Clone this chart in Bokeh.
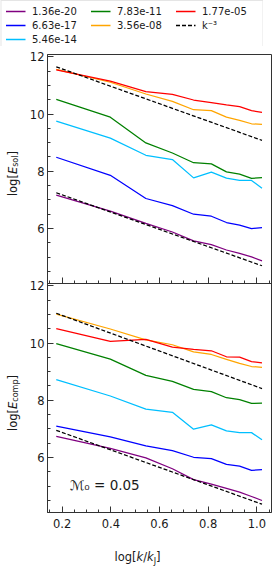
import numpy as np
from bokeh.plotting import figure
from bokeh.layouts import column, row
from bokeh.models import (LinearAxis, Legend, LegendItem, Label, Range1d,
                          FixedTicker, Div, PrintfTickFormatter)
from bokeh.embed import file_html
from bokeh.resources import INLINE

# ---------------- data ----------------
# x positions: log10(k / k_J)
log_k = [0.176, 0.398, 0.544, 0.653, 0.740, 0.813, 0.875, 0.929, 0.978, 1.021]

series_labels = ["1.36e-20", "6.63e-17", "5.46e-14", "7.83e-11", "3.56e-08", "1.77e-05"]
series_colors = ["purple", "blue", "deepskyblue", "green", "orange", "red"]

# top panel: log[E_sol]
sol_1p36e20 = [7.17, 6.61, 6.18, 5.88, 5.57, 5.44, 5.25, 5.13, 5.01, 4.87]
sol_6p63e17 = [8.49, 7.86, 7.05, 6.80, 6.50, 6.43, 6.21, 6.12, 6.00, 6.03]
sol_5p46e14 = [9.75, 9.16, 8.56, 8.41, 7.77, 7.97, 7.76, 7.68, 7.68, 7.41]
sol_7p83e11 = [10.51, 9.89, 8.99, 8.64, 8.30, 8.26, 7.98, 7.90, 7.75, 7.78]
sol_3p56e08 = [11.56, 11.11, 10.70, 10.44, 10.15, 10.12, 9.89, 9.78, 9.66, 9.64]
sol_1p77e05 = [11.54, 11.15, 10.78, 10.69, 10.49, 10.40, 10.32, 10.26, 10.12, 10.06]

# bottom panel: log[E_comp]
comp_1p36e20 = [6.74, 6.32, 5.99, 5.61, 5.23, 5.07, 4.92, 4.79, 4.64, 4.50]
comp_6p63e17 = [7.10, 6.72, 6.41, 6.24, 6.01, 5.96, 5.76, 5.70, 5.55, 5.58]
comp_5p46e14 = [8.72, 8.15, 7.69, 7.58, 6.99, 7.14, 6.93, 6.87, 6.87, 6.62]
comp_7p83e11 = [9.98, 9.44, 8.87, 8.66, 8.38, 8.30, 8.09, 8.02, 7.89, 7.90]
comp_3p56e08 = [11.01, 10.49, 10.11, 9.94, 9.69, 9.60, 9.43, 9.29, 9.18, 9.15]
comp_1p77e05 = [10.50, 10.06, 10.13, 9.86, 9.78, 9.73, 9.52, 9.51, 9.35, 9.31]

# k^-3 reference lines (end points)
ref_x = [0.176, 1.021]
sol_ref_hi = [11.65, 9.08]
sol_ref_lo = [7.25, 4.70]
comp_ref_hi = [11.04, 8.41]
comp_ref_lo = [6.95, 4.37]
slope_label = "k⁻³"

mach_label = "ℳ₀ = 0.05"

y_ticks = [6, 8, 10, 12]
y_minor = [4.5, 5, 5.5, 6.5, 7, 7.5, 8.5, 9, 9.5, 10.5, 11, 11.5]
x_ticks = [0.2, 0.4, 0.6, 0.8, 1.0]
x_minor = [0.15, 0.25, 0.3, 0.35, 0.45, 0.5, 0.55, 0.65, 0.7, 0.75,
           0.85, 0.9, 0.95, 1.05]

sol_series = [sol_1p36e20, sol_6p63e17, sol_5p46e14, sol_7p83e11, sol_3p56e08, sol_1p77e05]
comp_series = [comp_1p36e20, comp_6p63e17, comp_5p46e14, comp_7p83e11, comp_3p56e08, comp_1p77e05]

# ---------------- styling ----------------
FONT = "DejaVu Sans"
AX = "#333333"
TXT = "#1a1a1a"
LW = 1.25
DASH = "4 2"

Y_LO, Y_HI = 4.08, 12.08
SPAN = 8  # each panel shows Y_LO..Y_HI
FRAME_H = 229
TOP_B, BOT_B = 8, 22
LEG_H = 46

p = figure(width=247, height=TOP_B + 2 * FRAME_H + BOT_B,
           x_range=Range1d(0.14, 1.06),
           y_range=Range1d(Y_LO - SPAN, Y_HI),
           output_backend="svg", toolbar_location=None,
           min_border_left=17, min_border_right=2,
           min_border_top=TOP_B, min_border_bottom=BOT_B)
# the bottom panel uses its own scale on the lower half of the frame
p.extra_y_ranges = {"bottom": Range1d(Y_LO, Y_HI + SPAN)}
p.grid.visible = False
p.outline_line_color = AX
p.outline_line_width = 1


def style_axis(ax):
    ax.major_tick_in = 6
    ax.major_tick_out = 0
    ax.minor_tick_in = 3
    ax.minor_tick_out = 0
    ax.axis_line_color = AX
    ax.major_tick_line_color = AX
    ax.minor_tick_line_color = AX
    ax.major_label_text_font = FONT
    ax.major_label_text_color = TXT
    ax.major_label_text_font_size = "11.5px"


# one left axis carries the ticks of both panels (bottom panel ticks shifted
# onto the main scale and relabelled with their own values)
yl = p.yaxis[0]
bot_ticks = [t - SPAN for t in y_ticks]
yl.ticker = FixedTicker(ticks=bot_ticks + y_ticks,
                        minor_ticks=[t - SPAN for t in y_minor] + y_minor)
yl.major_label_overrides = {bt: str(t) for bt, t in zip(bot_ticks, y_ticks)}
style_axis(yl)
yl.major_label_standoff = 3

# bottom x axis
xb = p.xaxis[0]
xb.ticker = FixedTicker(ticks=x_ticks, minor_ticks=x_minor)
xb.formatter = PrintfTickFormatter(format="%.1f")
style_axis(xb)
xb.major_label_standoff = 6

# x axis at the boundary between the panels (ticks only)
xm = LinearAxis(fixed_location=Y_LO,
                ticker=FixedTicker(ticks=x_ticks, minor_ticks=x_minor))
style_axis(xm)
xm.major_label_text_color = None
xm.major_label_standoff = 0
p.add_layout(xm, "below")

sol_renderers = []
for vals, col in zip(sol_series, series_colors):
    sol_renderers.append(p.line(log_k, vals, color=col, line_width=LW))
p.line(ref_x, sol_ref_hi, color="black", line_dash=DASH, line_width=LW)
p.line(ref_x, sol_ref_lo, color="black", line_dash=DASH, line_width=LW)

for vals, col in zip(comp_series, series_colors):
    p.line(log_k, vals, color=col, line_width=LW, y_range_name="bottom")
p.line(ref_x, comp_ref_hi, color="black", line_dash=DASH, line_width=LW,
       y_range_name="bottom")
p.line(ref_x, comp_ref_lo, color="black", line_dash=DASH, line_width=LW,
       y_range_name="bottom")

p.add_layout(Label(x=0.232, y=5.05, y_range_name="bottom", text=mach_label,
                   text_font=FONT, text_font_size="13.5px", text_color=TXT,
                   text_baseline="middle", text_align="left"))

# ---------------- legend figure ----------------
# legend glyphs come from copies of the series lines, kept outside the view
lf = figure(width=263, height=LEG_H, x_range=Range1d(-3, -2), y_range=Range1d(-3, -2),
            output_backend="svg", toolbar_location=None, min_border=0,
            x_axis_type=None, y_axis_type=None, outline_line_color=None)
lf.grid.visible = False
rends = {}
for lab, col, vals in zip(series_labels, series_colors, sol_series):
    rends[lab] = lf.line(log_k, vals, color=col, line_width=1.6)
rends[slope_label] = lf.line(ref_x, sol_ref_hi, color="black", line_dash=DASH,
                             line_width=1.6)
order = ["1.36e-20", "7.83e-11", "1.77e-05",
         "6.63e-17", "3.56e-08", slope_label,
         "5.46e-14"]
legend = Legend(items=[LegendItem(label=l, renderers=[rends[l]]) for l in order],
                orientation="horizontal", ncols=3, location="top_center",
                margin=0, padding=4, spacing=2,
                glyph_width=20, glyph_height=12, label_height=12,
                label_width=56, label_standoff=7,
                label_text_font=FONT, label_text_font_size="10px",
                label_text_color=TXT,
                border_line_color="#cccccc", border_line_width=1,
                background_fill_color="white", background_fill_alpha=1)
lf.add_layout(legend, "center")

# ---------------- axis-label divs ----------------
def ylab(sub):
    return ('<div style="height:%dpx;width:16px;display:flex;align-items:center;'
            'justify-content:center;">'
            '<span style="writing-mode:vertical-rl;transform:rotate(180deg);'
            'white-space:nowrap;font-family:\'DejaVu Sans\';font-size:11.5px;'
            'color:%s;">log[<i>E</i><sub style="font-size:8px;">%s</sub>]</span></div>'
            % (FRAME_H, TXT, sub))


ydiv = Div(text='<div style="height:%dpx"></div>' % TOP_B + ylab("sol") + ylab("comp"),
           width=16, height=TOP_B + 2 * FRAME_H + BOT_B)

xdiv = Div(text=('<div style="width:231px;padding-left:34px;text-align:center;'
                 'font-family:\'DejaVu Sans\';font-size:11.5px;color:%s;'
                 'line-height:14px;">log[<i>k</i>/<i>k</i>'
                 '<sub style="font-size:8px;">J</sub>]</div>' % TXT),
           width=263, height=16)

layout = column(lf, row(ydiv, p), xdiv)

with open("out.html", "w") as f:
    f.write(file_html(layout, INLINE))
